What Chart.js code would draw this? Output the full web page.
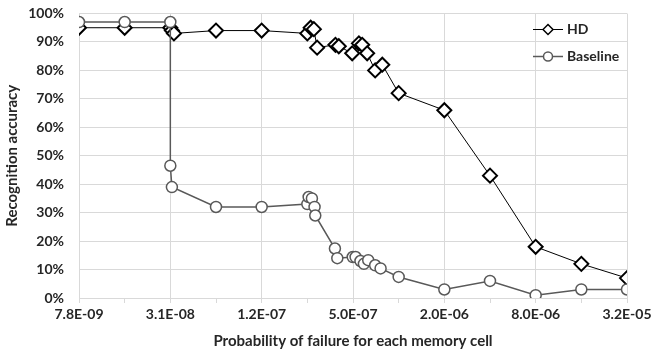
<!DOCTYPE html>
<html>
<head>
<meta charset="utf-8">
<title>Recognition accuracy vs failure probability</title>
<script src="https://cdn.jsdelivr.net/npm/chart.js@4.4.1/dist/chart.umd.min.js"></script>
<style>
    html, body { margin: 0; padding: 0; background: #fff; }
    #wrap { width: 662px; height: 350px; }
</style>
</head>
<body>
<div id="wrap"><canvas id="chart" width="662" height="350"></canvas></div>
<script>
// x axis ticks (log scale, each major tick x4, minor ticks x2 in between)
const majorTicks = [7.8125e-9, 3.125e-8, 1.25e-7, 5e-7, 2e-6, 8e-6, 3.2e-5];
const majorLabels = ['7.8E-09', '3.1E-08', '1.2E-07', '5.0E-07', '2.0E-06', '8.0E-06', '3.2E-05'];
const minorTicks = [1.5625e-8, 6.25e-8, 2.5e-7, 1e-6, 4e-6, 1.6e-5];

// HD series
const hdX = [7.8125e-9, 1.5625e-8, 3.125e-8, 3.2e-8, 3.3e-8, 6.25e-8, 1.25e-7,
    2.5e-7, 2.63e-7, 2.76e-7, 2.9e-7, 3.83e-7, 4.03e-7, 4.94e-7, 5.47e-7, 5.75e-7,
    6.2e-7, 7.0e-7, 7.8e-7, 1.0e-6, 2.0e-6, 4.0e-6, 8.0e-6, 1.6e-5, 3.2e-5];
const hdY = [95, 95, 95, 94, 93, 94, 94,
    93, 95, 94.5, 88, 89, 88.5, 86, 89.5, 89,
    86, 80, 82, 72, 66, 43, 18, 12, 7];

// Baseline series
const baseX = [7.8125e-9, 1.5625e-8, 3.125e-8, 3.125e-8, 3.2e-8, 6.25e-8, 1.25e-7,
    2.5e-7, 2.55e-7, 2.68e-7, 2.79e-7, 2.82e-7, 3.8e-7, 3.94e-7, 4.98e-7, 5.2e-7,
    5.6e-7, 5.9e-7, 6.3e-7, 7.0e-7, 7.6e-7, 1.0e-6, 2.0e-6, 4.0e-6, 8.0e-6, 1.6e-5, 3.2e-5];
const baseY = [97, 97, 97, 46.5, 39, 32, 32,
    33, 35.5, 35, 32, 29, 17.4, 14, 14.4, 14.4,
    13, 12, 13.3, 11.5, 10.4, 7.4, 3, 6, 1, 3, 3];

const seriesNames = ['HD', 'Baseline'];

const FONT = 'Lato, "Open Sans", sans-serif';
const TEXT = '#262626';
const GRID = '#d9d9d9';

function toPoints(xs, ys) {
    return xs.map((x, i) => ({ x: x, y: ys[i] }));
}

const allTicks = majorTicks.concat(minorTicks).sort((a, b) => a - b);

function isMajor(v) {
    return majorTicks.some(t => Math.abs(t - v) / t < 1e-6);
}

/**
 * Legend drawn inside the plot area, top right
 */
const insideLegend = {
    id: 'insideLegend',
    afterDraw(chart) {
        const ctx = chart.ctx;
        const rows = [29.5, 56.5];
        chart.data.datasets.forEach((ds, i) => {
            const y = rows[i];
            ctx.save();
            ctx.strokeStyle = ds.borderColor;
            ctx.lineWidth = ds.borderWidth;
            ctx.beginPath();
            ctx.moveTo(533, y);
            ctx.lineTo(563, y);
            ctx.stroke();
            ctx.fillStyle = '#fff';
            ctx.strokeStyle = ds.pointBorderColor;
            ctx.lineWidth = 1.5;
            ctx.beginPath();
            if (ds.pointStyle === 'rectRot') {
                ctx.moveTo(543, y);
                ctx.lineTo(548, y - 5);
                ctx.lineTo(553, y);
                ctx.lineTo(548, y + 5);
                ctx.closePath();
            } else {
                ctx.arc(548, y, 4.5, 0, Math.PI * 2);
            }
            ctx.fill();
            ctx.stroke();
            ctx.fillStyle = TEXT;
            ctx.font = 'bold 14px ' + FONT;
            ctx.textBaseline = 'middle';
            ctx.textAlign = 'left';
            ctx.fillText(ds.label, 567, y);
            ctx.restore();
        });
    }
};

const chart = new Chart(document.getElementById('chart').getContext('2d'), {
    type: 'line',
    data: {
        datasets: [{
            label: seriesNames[0],
            data: toPoints(hdX, hdY),
            borderColor: '#000',
            borderWidth: 1,
            pointStyle: 'rectRot',
            pointRadius: 7,
            pointBorderWidth: 2,
            pointBorderColor: '#000',
            pointBackgroundColor: '#fff',
            order: 1
        }, {
            label: seriesNames[1],
            data: toPoints(baseX, baseY),
            borderColor: '#595959',
            borderWidth: 1.5,
            pointStyle: 'circle',
            pointRadius: 5.5,
            pointBorderWidth: 1.5,
            pointBorderColor: '#595959',
            pointBackgroundColor: '#fff',
            order: 0
        }]
    },
    options: {
        responsive: false,
        animation: false,
        layout: {
            padding: { top: 13.5, right: 35, bottom: 0, left: 0 }
        },
        scales: {
            x: {
                type: 'logarithmic',
                min: majorTicks[0],
                max: majorTicks[majorTicks.length - 1],
                afterBuildTicks: (scale) => {
                    scale.ticks = allTicks.map(v => ({ value: v }));
                },
                afterFit: (scale) => { scale.height = 52; },
                border: { display: false },
                grid: {
                    color: (c) => (c.tick && isMajor(c.tick.value)) ? GRID : 'rgba(0,0,0,0)',
                    tickColor: GRID,
                    tickLength: 5,
                    lineWidth: 1
                },
                ticks: {
                    autoSkip: false,
                    maxRotation: 0,
                    padding: 3,
                    color: TEXT,
                    font: { family: FONT, size: 14, weight: 'bold' },
                    callback: (value) => {
                        const i = majorTicks.findIndex(t => Math.abs(t - value) / t < 1e-6);
                        return i >= 0 ? majorLabels[i] : '';
                    }
                },
                title: {
                    display: true,
                    text: 'Probability of failure for each memory cell',
                    color: TEXT,
                    font: { family: FONT, size: 15, weight: 'bold' },
                    padding: { top: 4, bottom: 0 }
                }
            },
            y: {
                min: 0,
                max: 100,
                afterFit: (scale) => {
                    scale.width = 79;
                    // tick padding would otherwise push the plot top down
                    scale.paddingTop = 0;
                    scale.paddingBottom = 0;
                },
                border: { display: false },
                grid: {
                    color: GRID,
                    drawTicks: false,
                    lineWidth: 1
                },
                ticks: {
                    stepSize: 10,
                    padding: 15,
                    color: TEXT,
                    font: { family: FONT, size: 14, weight: 'bold' },
                    callback: (value) => value + '%'
                },
                title: {
                    display: true,
                    text: 'Recognition accuracy',
                    color: TEXT,
                    font: { family: FONT, size: 15, weight: 'bold' },
                    padding: { top: 3, bottom: 4 }
                }
            }
        },
        plugins: {
            legend: { display: false },
            tooltip: { enabled: false }
        }
    },
    plugins: [insideLegend]
});
</script>
</body>
</html>
